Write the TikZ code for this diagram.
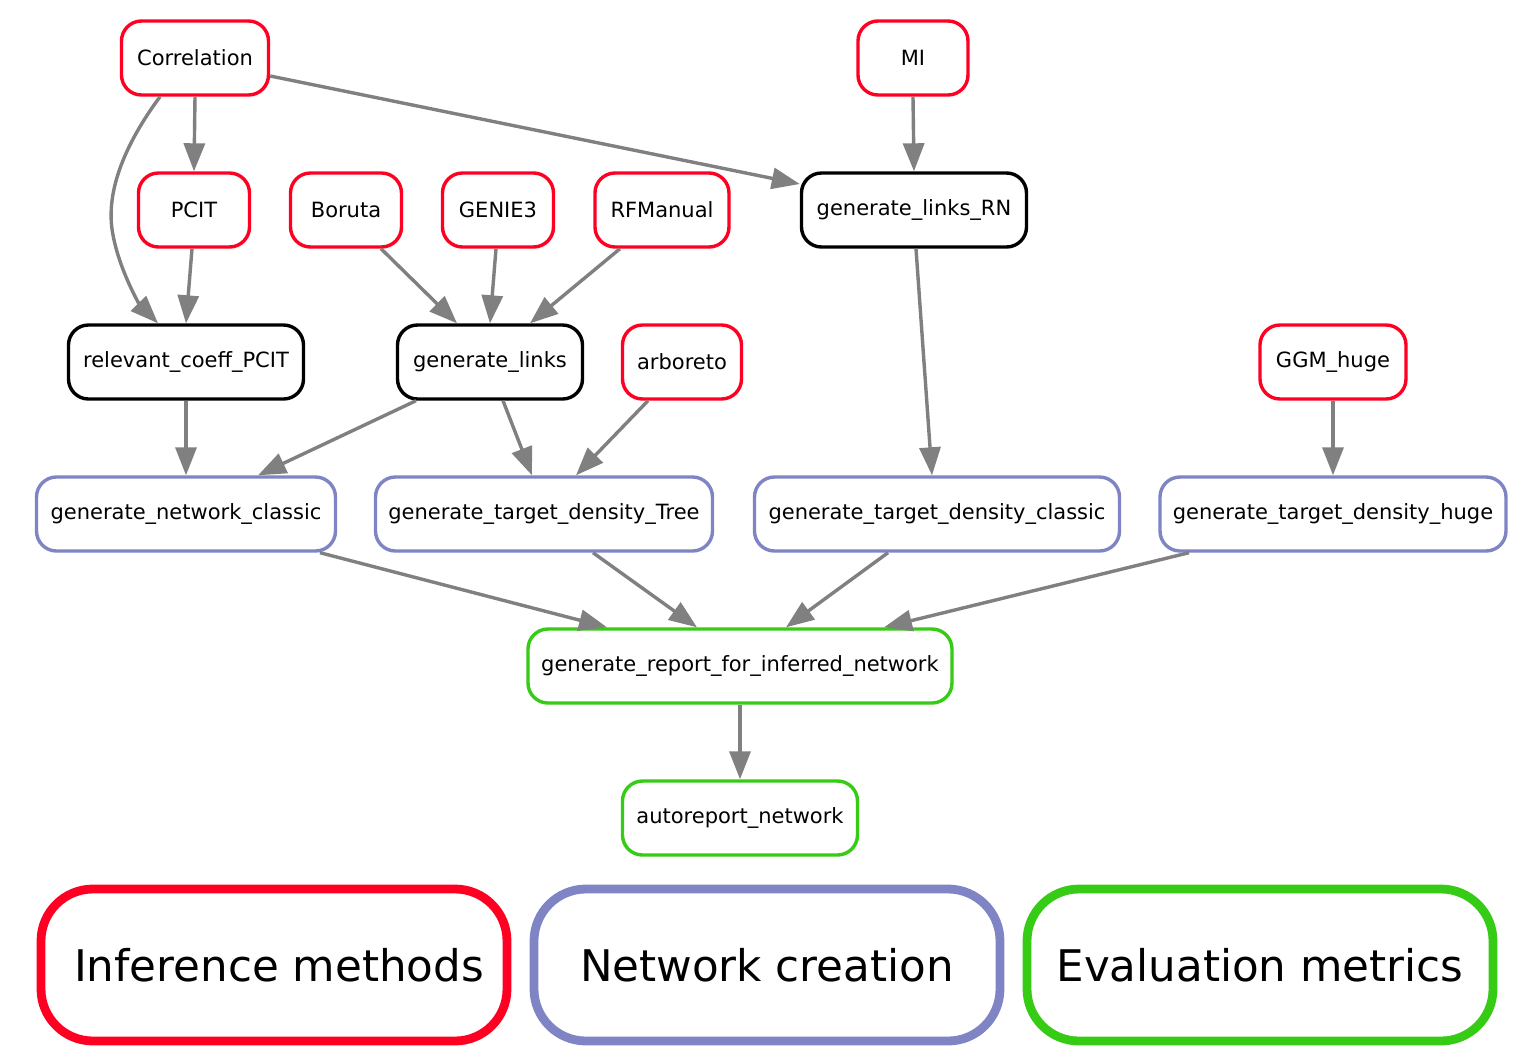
\documentclass[tikz,border=0pt]{standalone}
\usepackage{fontspec}
\setmainfont{DejaVu Sans}
\usetikzlibrary{arrows.meta}
\definecolor{infred}{HTML}{FF0022}
\definecolor{netblue}{HTML}{7F84C4}
\definecolor{evgreen}{HTML}{36CC15}
\definecolor{edgegray}{HTML}{808080}
\tikzset{
  job/.style={draw, rounded corners=10pt, line width=1.7pt, minimum height=37pt,
    inner sep=0pt, font=\fontsize{10.5}{12}\selectfont, fill=white},
  inf/.style={job, draw=infred},
  rule/.style={job, draw=black},
  net/.style={job, draw=netblue},
  ev/.style={job, draw=evgreen},
  legend/.style={draw, rounded corners=26pt, line width=4.4pt, minimum width=233pt,
    minimum height=76pt, inner sep=0pt, font=\fontsize{21.8}{25}\selectfont},
  link/.style={draw=edgegray, line width=1.7pt, -{Triangle[length=14pt,width=10.5pt]}}
}
\begin{document}
\begin{tikzpicture}[x=0.5pt,y=-0.5pt]
\useasboundingbox[fill=white] (0,0) rectangle (1533,1056);
% row 1
\node[inf, minimum width=73.5pt] (corr) at (195,58) {Correlation};
\node[inf, minimum width=55pt] (mi) at (913,58) {MI};
% row 2
\node[inf, minimum width=55.5pt] (pcit) at (194,210) {PCIT};
\node[inf, minimum width=55.5pt] (boruta) at (346,210) {Boruta};
\node[inf, minimum width=55.5pt] (genie) at (498,210) {GENIE3};
\node[inf, minimum width=67pt] (rfm) at (662,210) {RFManual};
\node[rule, minimum width=112.5pt] (glrn) at (914,210) {generate\_links\_RN};
% row 3
\node[rule, minimum width=117.5pt] (rel) at (186,362) {relevant\_coeff\_PCIT};
\node[rule, minimum width=92.5pt] (gl) at (490,362) {generate\_links};
\node[inf, minimum width=59.5pt] (arb) at (682,362) {arboreto};
\node[inf, minimum width=73pt] (ggm) at (1333,362) {GGM\_huge};
% row 4
\node[net, minimum width=149.5pt] (gnc) at (186,514) {generate\_network\_classic};
\node[net, minimum width=168.5pt] (tree) at (544,514) {generate\_target\_density\_Tree};
\node[net, minimum width=182.5pt] (classic) at (937,514) {generate\_target\_density\_classic};
\node[net, minimum width=173pt] (huge) at (1333,514) {generate\_target\_density\_huge};
% row 5
\node[ev, minimum width=212pt] (report) at (740,666) {generate\_report\_for\_inferred\_network};
\node[ev, minimum width=117.5pt] (auto) at (740,818) {autoreport\_network};
% legend
\node[legend, draw=infred] (leginf) at (274,965) {\hspace*{5pt}Inference methods};
\node[legend, draw=netblue] (legnet) at (767,965) {Network creation};
\node[legend, draw=evgreen] (legev) at (1260,965) {Evaluation metrics};
% edges
\draw[link] (corr.south) -- (pcit.north);
\draw[link] ([xshift=-17.5pt]corr.south) .. controls (128,140) and (104,190) .. (113,235)
  .. controls (120,272) and (140,305) .. ([xshift=-14pt]rel.north);
\draw[link] ([xshift=-1pt]pcit.south) -- (rel.north);
\draw[link] ([yshift=-9pt]corr.east) -- ([yshift=13pt]glrn.west);
\draw[link] (mi.south) -- (glrn.north);
\draw[link] ([xshift=17.5pt]boruta.south) -- ([xshift=-16.5pt]gl.north);
\draw[link] ([xshift=-1pt]genie.south) -- (gl.north);
\draw[link] ([xshift=-21pt]rfm.south) -- ([xshift=20pt]gl.north);
\draw[link] ([xshift=1pt]glrn.south) -- ([xshift=-2.5pt]classic.north);
\draw[link] (rel.south) -- (gnc.north);
\draw[link] ([xshift=-37pt]gl.south) -- ([xshift=36pt]gnc.north);
\draw[link] ([xshift=6.5pt]gl.south) -- ([xshift=-6pt]tree.north);
\draw[link] ([xshift=-17pt]arb.south) -- ([xshift=16pt]tree.north);
\draw[link] (ggm.south) -- (huge.north);
\draw[link] ([xshift=67pt]gnc.south) -- ([xshift=-66.5pt]report.north);
\draw[link] ([xshift=24.5pt]tree.south) -- ([xshift=-21.5pt]report.north);
\draw[link] ([xshift=-24.5pt]classic.south) -- ([xshift=23pt]report.north);
\draw[link] ([xshift=-72pt]huge.south) -- ([xshift=72pt]report.north);
\draw[link] (report.south) -- (auto.north);
\end{tikzpicture}
\end{document}
